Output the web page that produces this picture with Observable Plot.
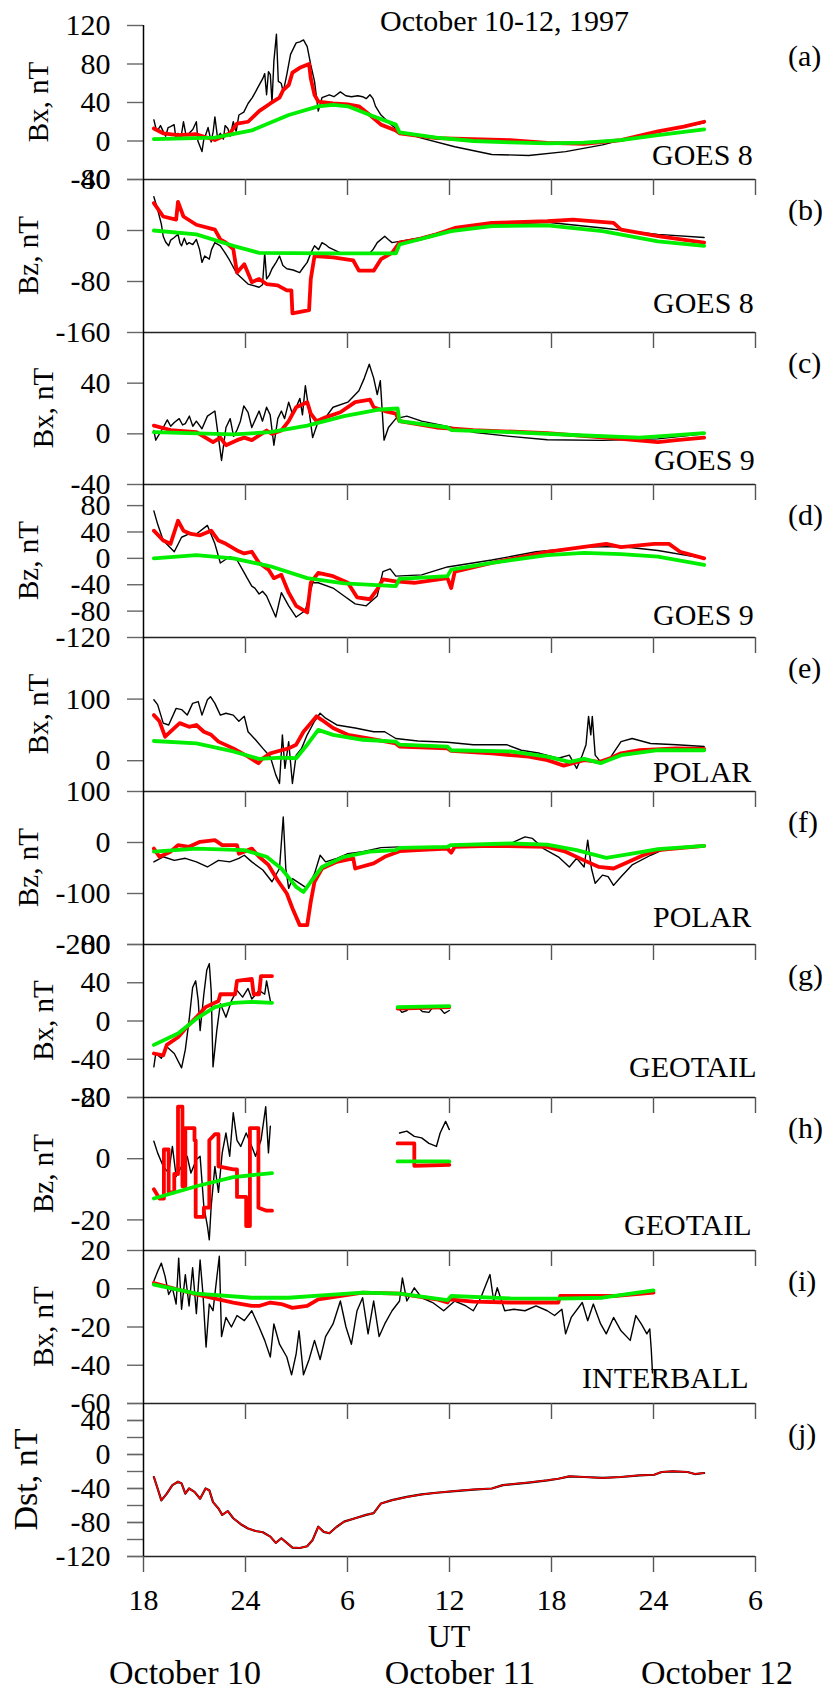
<!DOCTYPE html>
<html><head><meta charset="utf-8">
<script src="https://cdn.jsdelivr.net/npm/d3@7"></script>
<script src="https://cdn.jsdelivr.net/npm/@observablehq/plot@0.6"></script>
<style>
body{margin:0;background:#fff;}
#root{position:relative;width:830px;height:1690px;overflow:hidden;background:#fff;font-family:"Liberation Serif","Times New Roman",serif;}
</style></head><body><div id="root"></div>
<script>
// ---------- data (x = hours from Oct 10 00 UT, y = nT) ----------
const xTickValues = [18, 24, 30, 36, 42, 48, 54];
const xTickLabels = ["18", "24", "6", "12", "18", "24", "6"];
const dayLabels = ["October 10", "October 11", "October 12"];
const panelTags = ["(a)","(b)","(c)","(d)","(e)","(f)","(g)","(h)","(i)","(j)"];
const satNames = ["GOES 8","GOES 8","GOES 9","GOES 9","POLAR","POLAR","GEOTAIL","GEOTAIL","INTERBALL",""];
const yTitles = ["Bx, nT","Bz, nT","Bx, nT","Bz, nT","Bx, nT","Bz, nT","Bx, nT","Bz, nT","Bx, nT","Dst, nT"];
const yDomains = [[-40,120],[-160,80],[-40,80],[-120,112],[-50,200],[-200,100],[-80,80],[-30,20],[-60,20],[-120,60]];
const yTicks = [[120,80,40,0,-40],[80,0,-80,-160],[40,0,-40],[80,40,0,-40,-80,-120],[100,0],[100,0,-100,-200],[80,40,0,-40,-80],[20,0,-20],[20,0,-20,-40,-60],[40,0,-40,-80,-120]];
const jMinorTicks = [60,40,20,0,-20,-40,-60,-80,-100,-120];

const aBlack = [[18.61,22],[18.72,14],[18.83,11],[19.0,16],[19.16,10],[19.3,5],[19.45,14],[19.59,15],[19.8,17],[19.9,4],[20.03,8],[20.2,3],[20.35,20],[20.5,6],[20.68,8],[20.9,12],[21.11,20],[21.2,0],[21.44,-11],[21.55,2],[21.65,6],[21.8,14],[21.98,-1],[22.1,10],[22.2,25],[22.35,4],[22.52,8],[22.7,2],[22.8,16],[22.96,13],[23.1,5],[23.28,20],[23.45,10],[23.61,27],[23.9,30],[24.15,39],[24.4,45],[24.59,51],[24.8,58],[25.02,65],[25.13,70],[25.24,48],[25.35,72],[25.46,69],[25.56,40],[25.67,83],[25.82,111],[25.93,62],[26.1,60],[26.22,51],[26.43,69],[26.65,90],[26.98,102],[27.2,103],[27.41,105],[27.63,98],[27.84,79],[28.06,62],[28.28,31],[28.5,45],[28.93,48],[29.2,46],[29.58,51],[29.9,47],[30.23,46],[30.6,47],[30.89,46],[31.1,44],[31.32,48],[31.5,44],[31.65,36],[31.97,27],[32.5,18],[33.06,10],[34.36,3],[36.31,-6],[38.49,-14],[40.66,-15],[42.83,-11],[45.0,-4],[47.18,6],[49.35,13],[50.98,19]];
const aRed = [[18.61,13],[19.16,8],[20.03,6],[21.11,7],[22.2,1],[23.07,8],[23.5,18],[24.15,20],[24.8,31],[25.46,39],[26.0,45],[26.22,53],[26.54,58],[26.76,71],[27.19,76],[27.74,80],[27.84,65],[28.06,48],[28.28,41],[29.15,39],[30.02,38],[30.67,36],[31.32,27],[31.97,17],[32.84,11],[33.06,8],[35.23,3],[39.57,1],[41.75,-2],[43.92,-3],[46.09,1],[48.26,10],[49.78,15],[50.98,20]];
const aGreen = [[18.61,2],[22.2,3.5],[24.37,11],[26.54,27],[28.28,36],[29.15,37.5],[30.02,36],[31.32,27],[32.84,17],[33.06,9],[35.23,3.5],[37.4,0],[39.57,-1.4],[41.75,-2.4],[43.92,-1.7],[46.09,1],[48.26,6],[50.98,12]];

const bBlack = [[18.61,53],[18.83,33],[19.05,10],[19.16,-9],[19.3,-18],[19.48,-24],[19.6,-15],[19.81,-11],[20.03,-6],[20.15,-20],[20.24,-24],[20.4,-12],[20.55,-22],[20.68,-19],[20.9,-22],[21.11,-14],[21.3,-30],[21.44,-50],[21.6,-40],[21.87,-45],[22.0,-30],[22.2,-19],[22.52,-24],[22.8,-35],[23.07,-47],[23.5,-68],[24.15,-84],[24.8,-89],[25.0,-85],[25.13,-35],[25.2,-60],[25.24,-76],[25.4,-70],[25.56,-60],[25.8,-50],[26.0,-40],[26.2,-55],[26.43,-60],[26.8,-62],[27.19,-66],[27.4,-58],[27.63,-50],[27.85,-35],[28.06,-24],[28.3,-30],[28.5,-19],[28.7,-22],[28.93,-27],[29.58,-35],[30.45,-35],[31.32,-35],[31.5,-30],[31.75,-19],[32.19,-9],[32.4,-14],[32.62,-19],[33.06,-17],[34.36,-11],[36.1,1.5],[38.49,9],[41.75,13],[45.0,4],[48.26,-6],[50.98,-11]];
const bRed = [[18.61,43],[19.16,22],[19.92,17],[20.03,45],[20.35,22],[21.11,9],[22.2,1.5],[22.52,-14],[22.85,-19],[23.28,-29],[23.5,-66],[23.93,-53],[24.37,-81],[24.8,-76],[25.24,-84],[25.89,-86],[26.43,-94],[26.7,-94],[26.76,-130],[27.74,-125],[27.84,-76],[28.06,-40],[29.15,-42],[30.34,-47],[30.67,-63],[31.54,-63],[31.97,-45],[32.62,-35],[33.06,-19],[34.14,-14],[35.23,-6],[36.31,4],[38.49,12],[41.75,14.5],[43.26,17],[45.65,12],[46.09,1.5],[48.26,-9],[50.98,-19]];
const bGreen = [[18.61,0],[21.11,-6],[23.28,-24],[24.8,-35],[28.71,-36],[32.84,-36],[33.06,-22],[36.1,-1],[38.49,7],[41.75,8],[45.0,-1],[48.26,-17],[50.98,-24]];

const cBlack = [[18.61,2.6],[18.72,-5],[19.16,5],[19.4,11],[19.6,6],[19.81,9],[20.1,12],[20.3,7],[20.46,8],[20.7,14],[20.9,6],[21.11,10],[21.44,4],[21.76,14],[22.2,18],[22.41,-3],[22.59,-21],[22.85,5],[23.1,12],[23.3,-2],[23.5,3],[23.7,10],[23.9,22],[24.15,17],[24.37,5],[24.6,12],[24.8,18],[25.0,10],[25.24,21],[25.45,15],[25.67,-9],[25.9,12],[26.11,18],[26.3,12],[26.54,25],[26.75,16],[26.98,21],[27.2,28],[27.35,15],[27.52,38],[27.74,18],[27.95,-3],[28.28,10],[28.71,13],[29.15,21],[30.02,25],[30.67,34],[30.99,44],[31.28,55],[31.54,44],[31.75,31],[31.93,42],[32.15,-5],[32.41,5],[32.84,12],[33.49,14],[34.36,10],[35.66,6.5],[37.4,1.3],[39.57,-2],[41.75,-4.7],[45.0,-5.2],[48.26,-4],[50.98,0]];
const cRed = [[18.61,6.5],[19.59,3],[21.11,1.3],[22.09,-6.5],[22.52,-3],[22.85,-9],[23.5,-5],[23.93,-3],[24.37,-5],[25.24,2.6],[25.56,0],[26.11,2.6],[26.54,10],[26.98,21],[27.63,25],[27.84,16],[28.17,10],[28.71,13],[29.58,17],[30.45,25],[31.32,27],[31.54,21],[32.19,18],[32.84,16],[33.06,10],[35.23,5],[37.4,3],[41.75,0.5],[46.09,-4],[48.26,-6.5],[49.35,-5],[50.98,-3]];
const cGreen = [[18.61,1.3],[23.28,-0.5],[25.46,1.3],[27.63,6.5],[29.8,14],[31.75,19],[32.95,20],[33.06,10],[35.88,5],[36.1,3],[39.57,1.3],[43.92,-1.3],[47.18,-3],[48.26,-2],[50.98,0.5]];

const dBlack = [[18.61,72],[18.83,52],[19.16,27],[19.81,10],[20.24,32],[20.68,37],[21.11,37],[21.76,50],[22.2,22],[22.52,-7],[23.07,2.5],[23.5,-2.5],[23.93,-22],[24.1,-30],[24.37,-42],[24.55,-45],[24.8,-54],[25.0,-50],[25.24,-57],[25.78,-89],[26.11,-52],[26.54,-72],[26.98,-89],[27.52,-79],[27.95,-37],[28.28,-37],[29.15,-45],[29.8,-57],[30.45,-69],[31.1,-72],[31.75,-57],[32.08,-20],[32.51,-16],[32.84,-27],[34.36,-25],[35.88,-13],[38.49,-2.5],[41.09,10],[43.92,17],[46.09,18],[48.26,12],[50.98,0]];
const dRed = [[18.61,42],[19.16,27],[19.59,22],[20.03,57],[20.35,42],[20.79,37],[21.33,35],[21.98,42],[22.41,27],[22.85,22],[23.5,12],[23.93,7.5],[24.37,10],[24.8,-7],[25.35,-17],[25.67,-30],[26.11,-25],[26.54,-52],[26.98,-72],[27.63,-82],[27.84,-37],[28.28,-22],[29.15,-27],[30.02,-37],[30.56,-59],[31.32,-62],[31.75,-47],[32.08,-32],[32.84,-35],[33.93,-37],[35.88,-30],[36.1,-45],[36.31,-20],[38.49,-7],[41.75,10],[45.22,22],[46.09,17],[48.04,22],[48.91,22],[49.56,10],[50.98,0]];
const dGreen = [[18.61,0],[21.11,5],[23.28,0],[25.46,-12],[27.63,-30],[29.8,-38],[32.84,-42],[33.06,-31],[35.88,-27],[36.1,-17],[38.49,-7],[41.75,5],[43.92,8.4],[46.09,6.4],[48.26,2.5],[50.98,-10]];

const eBlack = [[18.61,99],[18.83,91],[19.16,61],[19.48,58],[19.92,85],[20.24,83],[20.57,74],[20.89,93],[21.22,96],[21.44,74],[21.76,99],[21.94,104],[22.2,93],[22.52,74],[22.85,77],[23.28,74],[23.61,64],[23.93,72],[24.15,47],[24.59,34],[25.02,20],[25.46,6.5],[25.78,-23],[26.0,-37],[26.17,42],[26.32,-12.5],[26.54,31],[26.76,-37],[26.98,9],[27.3,20],[27.63,42],[28.06,64],[28.39,77],[28.71,69],[29.37,58],[30.45,53],[31.54,47],[32.19,47],[32.84,36],[34.14,32],[35.88,30],[37.4,26],[39.36,26],[40.22,17],[41.31,12],[42.4,4],[43.05,9],[43.48,-12.5],[43.81,9],[44.03,26],[44.18,72],[44.31,42],[44.4,72],[44.57,9],[44.89,-2],[45.44,4],[46.09,31],[46.74,36],[47.83,28],[49.35,26],[50.98,23]];
const eRed = [[18.61,74],[18.94,64],[19.27,39],[19.81,53],[20.13,61],[20.68,55],[21.11,58],[21.55,47],[21.98,42],[22.41,31],[23.28,20],[24.15,6.5],[24.76,-4],[25.02,4],[25.46,12],[26.11,17],[26.54,20],[26.98,26],[27.41,47],[27.84,61],[28.17,72],[28.5,66],[29.15,53],[30.02,42],[31.32,36],[32.84,28],[33.06,23],[35.88,20],[36.1,16],[38.49,12],[40.66,6.5],[41.75,1],[42.72,-8],[43.92,1],[44.79,-2],[45.44,4],[46.09,12],[47.18,17],[49.35,20],[50.98,19]];
const eGreen = [[18.61,32],[21.11,28],[23.28,15],[24.8,3],[26.11,5],[26.98,4],[27.63,26],[28.28,50],[29.15,42],[30.89,34],[32.84,31],[33.06,26],[35.88,23],[36.1,17],[39.57,15],[41.75,6.5],[43.05,-2],[43.92,3],[44.89,-4],[46.09,9],[48.26,17],[50.98,17]];

const fBlack = [[18.61,-38],[19.16,-28],[19.81,-35],[20.46,-31],[21.11,-38],[21.76,-48],[22.41,-35],[23.07,-38],[23.61,-31],[23.93,-25],[24.37,-38],[25.02,-54],[25.56,-77],[26.0,-51],[26.22,50],[26.37,-51],[26.54,-90],[26.76,-71],[27.63,-90],[28.06,-61],[28.39,-25],[28.71,-38],[29.37,-31],[30.02,-22],[30.89,-18],[31.97,-10],[33.06,-8.5],[35.23,-8.5],[37.4,-5],[39.57,-2],[40.44,11],[40.88,8],[41.53,-12],[42.4,-28],[43.05,-48],[43.48,-31],[43.92,-48],[44.13,4.6],[44.35,-51],[44.57,-80],[45.0,-64],[45.33,-67],[45.65,-84],[46.09,-67],[46.74,-44],[47.83,-25],[48.7,-12],[50.98,-6.5]];
const fRed = [[18.61,-12],[18.94,-28],[19.59,-18],[20.03,-5],[20.68,-8.5],[21.33,1.3],[22.2,4.6],[22.63,-5],[23.5,-5],[23.61,-22],[24.37,-12],[24.8,-28],[25.35,-44],[25.89,-74],[26.43,-100],[26.76,-129],[27.19,-162],[27.63,-162],[27.84,-116],[28.06,-77],[28.5,-51],[29.37,-38],[30.34,-31],[30.45,-51],[31.54,-41],[32.19,-28],[33.06,-17],[34.14,-15],[35.88,-12],[36.1,-20],[36.31,-8.5],[38.49,-6.5],[41.75,-8.5],[42.83,-18],[43.92,-35],[44.79,-48],[45.65,-51],[46.31,-41],[47.39,-25],[48.26,-15],[50.98,-6.5]];
const fGreen = [[18.61,-18],[21.11,-12],[23.93,-15],[25.24,-28],[26.11,-51],[26.98,-87],[27.41,-97],[27.84,-77],[28.5,-48],[29.8,-28],[31.32,-18],[32.84,-15],[33.06,-10.5],[35.88,-8.5],[36.1,-5],[39.57,-2],[41.75,-4],[43.48,-15],[45.22,-30],[46.74,-22],[48.26,-13],[50.98,-6.5]];

const gBlack1 = [[18.61,-48],[18.72,-34],[19.05,-39],[19.37,-27],[19.81,-34],[20.24,-49],[20.46,-30],[20.68,0.7],[20.89,35],[21.07,42],[21.22,21],[21.33,-10],[21.55,28],[21.72,53],[21.87,60],[21.98,32],[22.09,-48],[22.31,-10],[22.52,18],[22.85,4],[23.17,21],[23.5,32],[23.83,25],[24.15,34],[24.37,23],[24.8,32],[25.13,28],[25.24,42],[25.46,21]];
const gBlack2 = [[32.95,14.5],[33.2,9],[33.49,11],[33.7,15],[34.14,14.5],[34.4,10],[34.79,9],[35.0,14],[35.45,13],[35.7,8],[35.99,11]];
const gRed1 = [[18.61,-34],[19.16,-36],[19.37,-25],[20.03,-17],[20.46,-8],[21.11,4],[21.65,14.5],[22.41,21],[22.52,28],[23.39,28],[23.5,42],[24.37,44],[24.48,28],[24.8,28],[24.91,47],[25.56,47]];
const gRed2 = [[32.95,13],[35.99,14.5]];
const gGreen1 = [[18.61,-25],[20.03,-13],[21.11,2.4],[22.2,14.5],[23.28,19],[24.37,20],[25.56,19]];
const gGreen2 = [[32.95,14.5],[35.99,15.6]];

const hBlack1 = [[18.61,5.7],[18.83,1.9],[19.16,-2.5],[19.48,-4.7],[19.7,4],[19.92,-5.8],[20.24,-2.5],[20.57,0.8],[20.79,-4.7],[21.11,-0.3],[21.33,0.8],[21.55,-15.6],[21.76,-22],[21.87,-26.5],[21.98,-15.6],[22.2,-2.5],[22.41,-11],[22.63,1.9],[22.85,8.4],[23.07,0.8],[23.28,15],[23.5,6],[23.72,4],[24.04,8.4],[24.37,4],[24.59,0.8],[24.91,6],[25.19,17],[25.35,1.9],[25.46,10.6]];
const hBlack2 = [[33.06,8.4],[33.49,9],[33.93,7.3],[34.36,6.8],[34.79,5],[35.23,4],[35.45,8.4],[35.77,12.2],[35.99,9.5]];
const hRed1 = [[18.61,-10],[18.94,-13],[19.2,-13],[19.2,3],[19.48,3],[19.48,-11],[19.81,-11],[19.81,-5],[20.03,-5],[20.03,17],[20.29,17],[20.29,-9],[20.46,-9],[20.46,10],[21.0,10],[21.0,6],[21.07,6],[21.07,-19],[21.55,-19],[21.55,-16],[21.87,-16],[21.87,6],[22.2,8],[22.41,8],[22.41,-2.5],[23.28,-3.5],[23.5,-3.5],[23.5,-12.5],[24.04,-12.5],[24.04,-22],[24.26,-22],[24.26,10],[24.76,10],[24.76,-16],[25.24,-17],[25.56,-17]];
const hRed2 = [[32.95,5],[33.93,5],[33.93,-2.3],[35.99,-2]];
const hGreen1 = [[18.61,-13],[21.11,-9],[23.28,-6],[25.56,-4.7]];
const hGreen2 = [[32.95,-0.9],[35.99,-0.9]];

const iBlack = [[18.61,4],[18.83,9],[19.05,13.4],[19.27,6.5],[19.48,-3],[19.7,0.5],[19.92,-8],[20.07,16],[20.24,-10.7],[20.46,7.4],[20.68,-9],[20.89,11],[21.11,-13],[21.33,15],[21.5,-3],[21.68,-30.5],[21.87,-8],[22.09,-11.5],[22.31,5.7],[22.46,17],[22.59,-25],[22.85,-15],[23.17,-20],[23.5,-14],[23.93,-16.7],[24.37,-11.5],[24.8,-20],[25.13,-27],[25.46,-35.7],[25.67,-18.4],[26.0,-29],[26.43,-35.7],[26.71,-45],[26.98,-34],[27.15,-22],[27.41,-45],[27.74,-37],[28.06,-27],[28.39,-37],[28.71,-25],[29.15,-18.4],[29.58,-6.4],[29.91,-20],[30.23,-29],[30.56,-11.5],[30.89,-4.7],[31.21,-23.6],[31.54,-6.4],[31.86,-25],[32.19,-18.4],[32.62,-11.5],[33.06,-6.4],[33.23,5.7],[33.49,-6.4],[33.93,0.5],[34.36,-4.7],[35.01,-7.2],[35.66,-11.5],[36.31,-6.4],[36.97,-9],[37.4,-11.5],[37.84,-4.7],[38.38,7.4],[38.6,-6.4],[38.81,0.5],[39.25,-11.5],[39.79,-10.7],[40.44,-11.5],[41.09,-9],[41.75,-11.5],[42.18,-14],[42.61,-10.7],[42.83,-23.6],[43.16,-15],[43.81,-7.2],[44.13,-16.7],[44.46,-8],[44.89,-18.4],[45.22,-23.6],[45.65,-15],[46.09,-22],[46.63,-27],[46.96,-14],[47.28,-18.4],[47.61,-23.6],[47.78,-21],[47.87,-32],[47.94,-44]];
const iRed = [[18.61,3],[21.11,-3],[23.28,-7.2],[24.37,-9],[24.8,-9],[25.46,-7.2],[26.11,-8],[26.76,-10],[27.63,-9],[28.28,-5.5],[30.89,-2],[33.06,-2.6],[35.23,-5.5],[35.88,-7.2],[35.99,-5.5],[37.4,-6.7],[39.57,-7.2],[42.4,-7.2],[42.51,-3.8],[45.65,-3.8],[48.0,-2]];
const iGreen = [[18.61,2.2],[21.11,-2.6],[24.37,-4.7],[26.54,-4.7],[28.71,-3.3],[30.89,-2],[33.06,-2.6],[35.88,-6],[36.1,-3.8],[39.57,-5],[42.4,-5.2],[45.0,-4.7],[48.0,-0.9]];

const jDst = [[18.61,-26.5],[18.83,-40],[19.05,-54],[19.37,-46],[19.7,-36],[20.03,-32],[20.24,-34],[20.46,-46],[20.68,-40],[21.0,-44],[21.33,-52],[21.65,-40],[21.87,-42],[22.09,-56],[22.41,-63.5],[22.63,-71],[22.96,-66.6],[23.28,-75],[23.72,-82],[24.15,-87],[24.59,-90],[25.02,-91.5],[25.46,-96.6],[25.78,-104],[26.11,-98.5],[26.43,-104],[26.76,-109.5],[27.19,-110],[27.63,-108],[27.95,-100.5],[28.28,-85],[28.6,-91],[28.93,-92.7],[29.37,-85],[29.8,-79],[30.45,-75],[31.1,-71],[31.54,-69],[31.97,-57.6],[32.62,-53.7],[33.49,-49.9],[34.36,-47],[35.23,-45],[36.31,-43],[37.4,-41.3],[38.49,-40],[39.14,-36],[40.66,-33],[41.75,-30.4],[42.4,-28.5],[43.05,-25.7],[43.92,-26.5],[45.0,-27.6],[46.09,-26.5],[47.18,-24.5],[48.04,-23.8],[48.48,-20.6],[49.13,-19.8],[50.0,-20.6],[50.43,-23],[50.98,-21.8]];

// ---------- layout ----------
const tops = [25, 179, 332, 484, 637, 791, 944, 1097, 1250, 1403, 1556];
const yTitleX = [48, 38, 53, 38, 48, 38, 53, 53, 53, 37];
const satX = [652, 653, 654, 653, 653, 653, 629, 624, 582];
const satLift = [14, 19, 14, 12, 9, 17, 20, 15, 15];
const series = [
  {black:[aBlack], red:[aRed], green:[aGreen]},
  {black:[bBlack], red:[bRed], green:[bGreen]},
  {black:[cBlack], red:[cRed], green:[cGreen]},
  {black:[dBlack], red:[dRed], green:[dGreen]},
  {black:[eBlack], red:[eRed], green:[eGreen]},
  {black:[fBlack], red:[fRed], green:[fGreen]},
  {black:[gBlack1,gBlack2], red:[gRed1,gRed2], green:[gGreen1,gGreen2]},
  {black:[hBlack1,hBlack2], red:[hRed1,hRed2], green:[hGreen1,hGreen2]},
  {black:[iBlack], red:[iRed], green:[iGreen]},
  {black:[jDst], red:[jDst], green:[]}
];

const root = document.getElementById("root");
const FONT = "Liberation Serif";
const RED = "#ff0000", GREEN = "#00ee00";

for (let k = 0; k < 10; k++) {
  const last = k === 9;
  const h = tops[k + 1] - tops[k];
  const s = series[k];
  const marks = [];
  marks.push(Plot.ruleY([yDomains[k][0]], {stroke: "#222", strokeWidth: 1.4}));
  if (last) {
    marks.push(Plot.axisY({ticks: jMinorTicks, tickSize: 16, tickFormat: () => "", stroke: "#666", strokeWidth: 1.4, label: null}));
  }
  marks.push(Plot.axisY({ticks: yTicks[k], tickSize: 16, tickPadding: 17, tickFormat: d => String(d),
    stroke: "#666", strokeWidth: 1.4, fill: "#000", fontSize: 30, fontFamily: FONT, label: null}));
  marks.push(Plot.axisX({ticks: last ? xTickValues : xTickValues.slice(1), tickSize: 16, tickPadding: 16,
    tickFormat: last ? (d => xTickLabels[xTickValues.indexOf(d)]) : (() => ""),
    stroke: "#555", strokeWidth: 1.4, fill: "#000", fontSize: 30, fontFamily: FONT, label: null}));
  marks.push(Plot.ruleX([18], {stroke: "#000", strokeWidth: 1.5}));
  const bw = last ? 2.2 : 1.4, rw = last ? 1.5 : 3.8;
  for (const d of s.black) marks.push(Plot.line(d, {x: p => p[0], y: p => p[1], stroke: "#000", strokeWidth: bw, strokeLinejoin: "round"}));
  for (const d of s.red) marks.push(Plot.line(d, {x: p => p[0], y: p => p[1], stroke: RED, strokeWidth: rw, strokeLinejoin: "round"}));
  for (const d of s.green) marks.push(Plot.line(d, {x: p => p[0], y: p => p[1], stroke: GREEN, strokeWidth: 3.8, strokeLinejoin: "round", curve: "linear"}));

  const svg = Plot.plot({
    width: 830, height: h,
    marginTop: 0, marginBottom: 0, marginLeft: 143, marginRight: 75,
    x: {domain: [18, 54]},
    y: {domain: yDomains[k]},
    style: {background: "none", overflow: "visible", fontFamily: FONT, fontSize: "30px", color: "#000", maxWidth: "none"},
    marks
  });
  svg.style.position = "absolute";
  svg.style.left = "0px";
  svg.style.top = tops[k] + "px";
  root.appendChild(svg);
}

// ---------- text overlay ----------
const ov = d3.select(root).append("svg")
  .attr("width", 830).attr("height", 1690)
  .style("position", "absolute").style("left", "0px").style("top", "0px")
  .style("pointer-events", "none")
  .attr("font-family", FONT).attr("fill", "#000");

ov.append("text").attr("x", 380).attr("y", 31).attr("font-size", 30).text("October 10-12, 1997");

for (let k = 0; k < 10; k++) {
  ov.append("text").attr("x", 788).attr("y", tops[k] + 41).attr("font-size", 30).text(panelTags[k]);
  const cy = (tops[k] + tops[k + 1]) / 2;
  ov.append("text").attr("transform", `translate(${yTitleX[k]},${cy}) rotate(-90)`)
    .attr("text-anchor", "middle").attr("font-size", k === 9 ? 34 : 29).text(yTitles[k]);
  if (satNames[k]) {
    ov.append("text").attr("x", satX[k]).attr("y", tops[k + 1] - satLift[k]).attr("font-size", 30).text(satNames[k]);
  }
}
ov.append("text").attr("x", 449).attr("y", 1647).attr("text-anchor", "middle").attr("font-size", 32).text("UT");
const dayX = [185, 460, 717];
dayLabels.forEach((t, i) => {
  ov.append("text").attr("x", dayX[i]).attr("y", 1684).attr("text-anchor", "middle").attr("font-size", 34).text(t);
});
</script></body></html>
